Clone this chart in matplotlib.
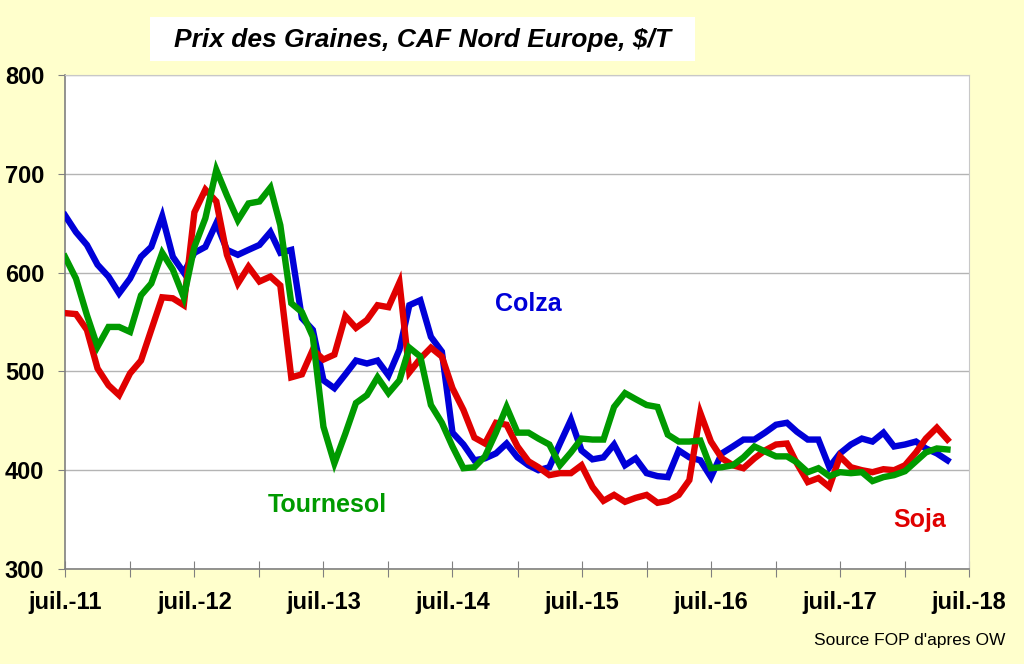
import numpy as np
import pandas as pd
import matplotlib
matplotlib.use("Agg")
import matplotlib.pyplot as plt
import matplotlib.dates as mdates
from matplotlib.patches import Rectangle

# Monthly prices, $/T, from juil. 2011 to mai 2018
months = pd.date_range("2011-07-01", periods=83, freq="MS")

colza = [658, 641, 628, 608, 596, 579, 594, 616, 626, 657, 616, 600, 620, 626,
         650, 623, 618, 623, 628, 641, 620, 623, 554, 542, 491, 483, 497, 511,
         508, 511, 496, 522, 567, 572, 535, 520, 438, 426, 410, 412, 417, 427,
         413, 405, 400, 403, 427, 451, 420, 411, 413, 426, 405, 412, 397, 394,
         393, 420, 413, 410, 393, 417, 424, 431, 431, 438, 446, 448, 439, 431,
         431, 403, 417, 426, 432, 429, 438, 424, 426, 429, 422, 417, 410]

soja = [559, 558, 542, 503, 486, 476, 498, 511, 542, 575, 574, 567, 661, 684,
        672, 618, 589, 606, 591, 596, 587, 494, 497, 522, 512, 517, 556, 544,
        552, 567, 565, 590, 499, 513, 524, 515, 483, 461, 433, 427, 448, 446,
        424, 409, 403, 395, 397, 397, 405, 383, 369, 375, 368, 372, 375, 367,
        369, 375, 390, 458, 429, 412, 405, 402, 412, 420, 426, 427, 407, 388,
        392, 383, 414, 403, 400, 398, 401, 400, 405, 418, 432, 443, 431]

tournesol = [616, 594, 557, 525, 545, 545, 540, 577, 589, 620, 603, 575, 626, 655,
             704, 678, 653, 670, 672, 686, 648, 569, 560, 535, 444, 407, 437, 468,
             476, 494, 478, 491, 524, 515, 466, 448, 424, 402, 403, 414, 438, 464,
             438, 438, 432, 426, 405, 418, 432, 431, 431, 464, 478, 472, 466, 464,
             436, 429, 429, 430, 402, 403, 405, 413, 424, 419, 414, 414, 408, 398,
             402, 394, 398, 397, 398, 389, 393, 395, 399, 409, 418, 422, 421]

bg = "#FFFFCC"
fig = plt.figure(figsize=(10.24, 6.64), dpi=100, facecolor=bg)
ax = fig.add_axes([65 / 1024, 1 - 569 / 664, 904 / 1024, 494 / 664])
ax.set_facecolor("white")

ax.plot(months, colza, color="#0000D8", linewidth=4.6, solid_joinstyle="miter", zorder=3)
ax.plot(months, soja, color="#E00000", linewidth=4.6, solid_joinstyle="miter", zorder=3)
ax.plot(months, tournesol, color="#009A00", linewidth=4.6, solid_joinstyle="miter", zorder=4)

ax.set_ylim(300, 800)
ax.set_yticks([300, 400, 500, 600, 700, 800])
ax.set_xlim(pd.Timestamp("2011-07-01"), pd.Timestamp("2018-07-01"))
ax.xaxis.set_major_locator(mdates.MonthLocator(bymonth=[1, 7]))


def fmt_month(x, pos):
    d = mdates.num2date(x)
    return f"juil.-{d.year % 100:02d}" if d.month == 7 else ""


ax.xaxis.set_major_formatter(plt.FuncFormatter(fmt_month))
ax.grid(axis="y", color="#B4B4B4", linewidth=1.0)
ax.set_axisbelow(True)

for s in ["top", "right"]:
    ax.spines[s].set_color("#C8C8C8")
for s in ["left", "bottom"]:
    ax.spines[s].set_color("#808080")
    ax.spines[s].set_linewidth(1.2)

ax.tick_params(axis="y", direction="out", length=5, color="#808080", pad=10,
               labelsize=17)
ax.tick_params(axis="x", direction="inout", length=12, color="#808080", pad=10,
               labelsize=17)
for lab in ax.get_xticklabels() + ax.get_yticklabels():
    lab.set_fontweight("bold")
    lab.set_fontfamily("Liberation Sans")

lbl = dict(fontsize=18, fontweight="bold", family="Liberation Sans",
           transform=ax.transAxes, ha="center", va="center")
ax.text(0.513, 0.536, "Colza", color="#0000D8", **lbl)
ax.text(0.290, 0.130, "Tournesol", color="#009A00", **lbl)
ax.text(0.945, 0.099, "Soja", color="#E00000", **lbl)

# title box
fig.patches.append(Rectangle((150 / 1024, 1 - 61 / 664), 545 / 1024, 44 / 664,
                             transform=fig.transFigure, facecolor="white",
                             edgecolor="none"))
fig.text(423 / 1024, 1 - 40 / 664, "Prix des Graines, CAF Nord Europe, $/T",
         fontsize=19, fontweight="bold", style="italic", family="Liberation Sans",
         ha="center", va="center")

fig.text(1005 / 1024, 1 - 640 / 664, "Source FOP d'apres OW", fontsize=12.5,
         family="Liberation Sans", ha="right", va="center")

fig.savefig("out.png", dpi=100, facecolor=bg)
